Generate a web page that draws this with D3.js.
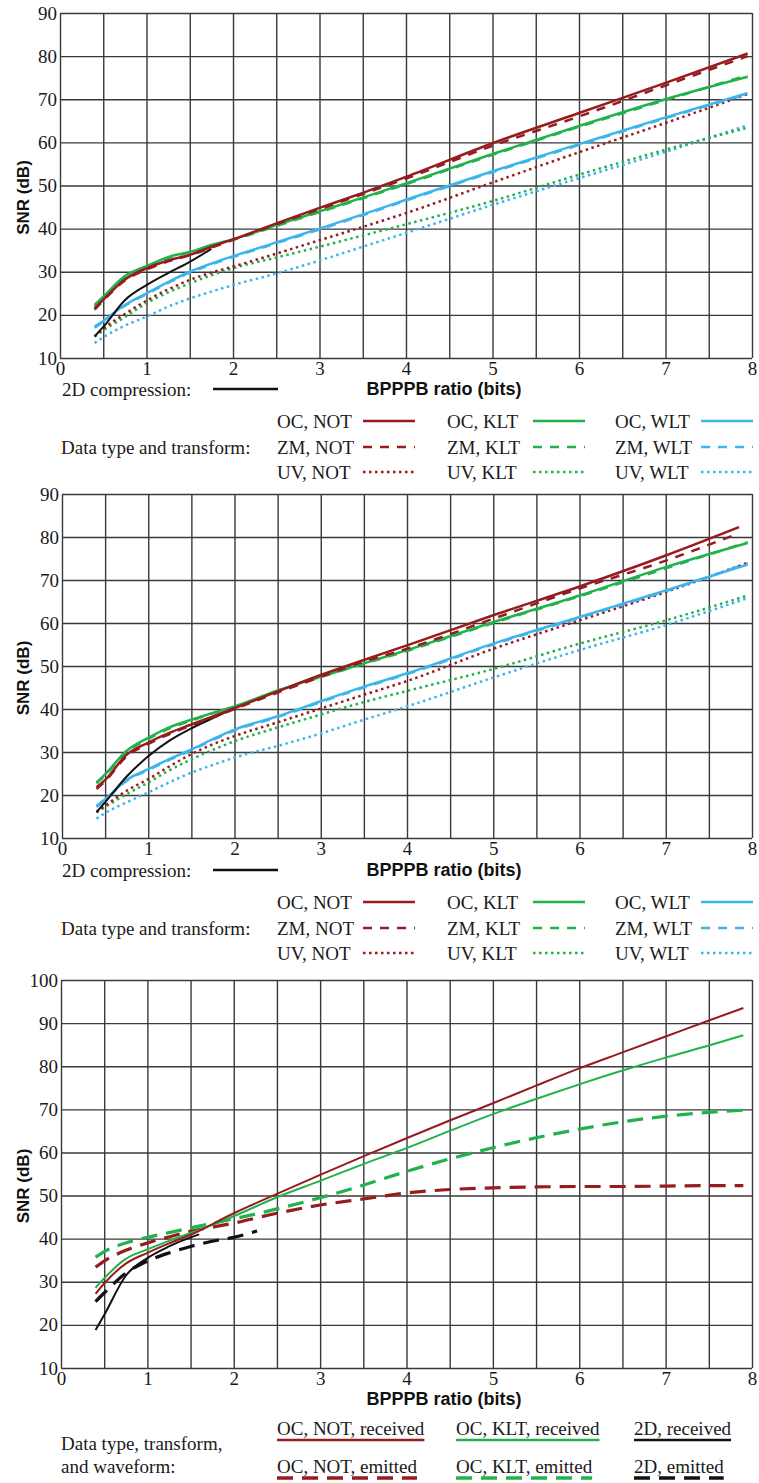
<!DOCTYPE html>
<html>
<head>
<meta charset="utf-8">
<script src="https://cdn.jsdelivr.net/npm/d3@7"></script>
<style>
  body { margin: 0; background: #fff; }
  .ttl { font-family: "Liberation Sans", Arial, sans-serif; font-weight: bold; fill: #111; }
  .lg { font-family: "Liberation Serif", "Times New Roman", serif; font-size: 19px; fill: #1a1a1a; }
</style>
</head>
<body>
<svg id="chart" width="759" height="1483"></svg>
<script>
// ---- data ----
// x positions (BPPPB ratio, bits) for panels 1 and 2
const xAB = [0.4, 0.5, 0.75, 1, 1.25, 1.5, 1.75, 2, 2.5, 3, 3.5, 4, 5, 6, 7, 7.95];
const xABred2 = [0.4, 0.5, 0.75, 1, 1.25, 1.5, 1.75, 2, 2.5, 3, 3.5, 4, 5, 6, 7, 7.85];
const x2D1 = [0.4, 0.5, 0.75, 1, 1.25, 1.5, 1.75];
const x2D2 = [0.4, 0.5, 0.75, 1, 1.25, 1.5, 1.75, 2];

// panel 1
const p1OcNot = [21.5, 23.5, 28.2, 30.8, 32.6, 33.9, 35.8, 37.5, 41.2, 44.8, 48.3, 52.0, 59.8, 66.8, 73.8, 80.6];
const p1ZmNot = [21.2, 23.3, 28.0, 30.5, 32.4, 33.8, 35.6, 37.4, 41.0, 44.5, 48.0, 51.6, 59.2, 66.0, 73.2, 80.0];
const p1UvNot = [15.0, 16.8, 20.2, 23.3, 25.9, 28.1, 29.8, 31.2, 34.2, 37.3, 40.4, 43.6, 50.7, 57.7, 64.5, 71.2];
const p1OcKlt = [22.3, 24.2, 29.0, 31.3, 33.4, 34.6, 36.2, 37.5, 40.8, 44.0, 47.2, 50.5, 57.3, 63.8, 70.0, 75.2];
const p1ZmKlt = [22.0, 24.0, 28.8, 31.0, 33.2, 34.5, 36.0, 37.4, 40.6, 43.8, 47.0, 50.3, 57.1, 63.6, 69.8, 75.6];
const p1UvKlt = [15.0, 16.4, 19.5, 22.7, 25.2, 27.3, 29.2, 30.8, 33.3, 35.8, 38.4, 41.0, 46.4, 52.5, 58.3, 63.4];
const p1OcWlt = [17.3, 18.6, 22.3, 25.0, 27.6, 30.0, 31.9, 33.6, 36.8, 40.0, 43.3, 46.7, 53.3, 59.6, 65.8, 71.4];
const p1ZmWlt = [17.0, 18.4, 22.1, 24.8, 27.4, 29.8, 31.7, 33.4, 36.6, 39.8, 43.1, 46.5, 53.1, 59.4, 65.6, 71.2];
const p1UvWlt = [13.5, 14.8, 17.5, 19.6, 21.9, 23.8, 25.4, 26.9, 29.6, 32.6, 35.8, 39.0, 45.5, 51.7, 57.8, 64.0];
const p1TwoD = [15.0, 17.2, 23.4, 26.9, 29.7, 32.3, 35.3];

// panel 2
const p2OcNot = [21.8, 23.5, 29.4, 32.2, 34.5, 36.4, 38.3, 40.2, 44.1, 47.9, 51.4, 54.8, 61.8, 68.5, 75.7, 82.3];
const p2ZmNot = [21.4, 23.2, 29.0, 31.9, 34.2, 36.2, 38.0, 40.0, 43.8, 47.5, 51.0, 54.0, 61.0, 68.0, 74.5, 80.9];
const p2UvNot = [16.0, 17.5, 21.0, 23.7, 26.7, 29.5, 31.8, 33.7, 36.9, 40.1, 43.3, 46.5, 54.0, 60.6, 67.2, 74.0];
const p2OcKlt = [22.9, 24.8, 30.3, 33.3, 35.8, 37.5, 39.1, 40.6, 44.3, 47.5, 50.6, 53.7, 60.2, 66.4, 73.0, 78.6];
const p2ZmKlt = [22.7, 24.6, 30.0, 33.0, 35.5, 37.3, 39.0, 40.5, 44.2, 47.4, 50.5, 53.5, 60.0, 66.2, 72.7, 78.8];
const p2UvKlt = [16.0, 17.2, 20.2, 22.9, 25.8, 28.3, 30.5, 32.5, 35.7, 38.7, 41.6, 44.2, 49.3, 55.2, 60.6, 66.4];
const p2OcWlt = [17.5, 19.0, 23.5, 26.0, 28.4, 30.6, 33.0, 35.2, 38.3, 41.8, 45.2, 48.3, 55.2, 61.4, 67.6, 73.6];
const p2ZmWlt = [17.2, 18.8, 23.3, 25.8, 28.2, 30.4, 32.8, 35.0, 38.1, 41.6, 45.0, 48.1, 55.0, 61.2, 67.4, 73.9];
const p2UvWlt = [14.5, 15.8, 18.3, 20.6, 23.0, 25.2, 27.0, 28.7, 31.4, 34.3, 37.5, 40.6, 47.3, 53.7, 59.5, 65.8];
const p2TwoD = [16.0, 18.3, 24.3, 29.0, 32.7, 35.5, 37.9, 40.2];

// panel 3
const xC = [0.4, 0.5, 0.75, 1, 1.25, 1.5, 2, 2.5, 3, 3.5, 4, 4.5, 5, 5.5, 6, 6.5, 7, 7.5, 7.9];
const x2DRec = [0.4, 0.5, 0.75, 1, 1.25, 1.5, 1.6];
const x2DEmi = [0.4, 0.5, 0.75, 1, 1.25, 1.5, 1.75, 2, 2.27];
const p3NotRec = [27.2, 29.6, 34.2, 36.7, 38.9, 40.9, 45.9, 50.4, 54.8, 59.1, 63.3, 67.4, 71.4, 75.5, 79.5, 83.2, 86.9, 90.6, 93.5];
const p3NotEmi = [33.4, 34.8, 37.3, 39.0, 40.4, 41.7, 43.6, 45.9, 47.8, 49.2, 50.6, 51.4, 51.8, 52.0, 52.1, 52.1, 52.2, 52.3, 52.3];
const p3KltRec = [28.6, 30.8, 35.3, 37.5, 39.5, 41.3, 45.2, 49.6, 53.4, 57.3, 61.0, 65.0, 68.9, 72.4, 75.8, 79.0, 82.0, 84.8, 87.2];
const p3KltEmi = [35.7, 37.0, 39.0, 40.3, 41.4, 42.5, 44.6, 46.9, 49.5, 52.4, 55.6, 58.5, 61.1, 63.4, 65.4, 67.1, 68.4, 69.3, 69.8];
const p32DRec = [18.8, 22.3, 31.4, 35.5, 38.2, 40.3, 41.0];
const p32DEmi = [25.4, 27.4, 32.0, 34.8, 36.7, 38.2, 39.4, 40.3, 41.8];

// legend labels
const typeNames = ['OC', 'ZM', 'UV'];
const transNames = ['NOT', 'KLT', 'WLT'];
const waveNames = ['received', 'emitted'];

// ---- styles ----
const RED = '#961c1f';
const GREEN = '#22b24c';
const BLUE = '#3cb5ec';
const BLACK = '#111';
const GRID = '#3a3a3a';
const SERIF = '"Liberation Serif", "Times New Roman", serif';
const transColor = { NOT: RED, KLT: GREEN, WLT: BLUE };
const typeDash = { OC: null, ZM: '9,8', UV: '2.5,3.5' };

const svg = d3.select('#chart');

function zip(xs, ys) { return xs.map((v, i) => [v, ys[i]]); }

function styleTicks(a) {
  a.select('.domain').remove();
  a.selectAll('text')
    .style('font-family', SERIF)
    .style('font-size', '19px')
    .attr('fill', '#1a1a1a');
}

function makePanel(cfg) {
  const g = svg.append('g');
  const x = d3.scaleLinear().domain([0, 8]).range([cfg.left, cfg.right]);
  const y = d3.scaleLinear().domain(cfg.yDom).range([cfg.bottom, cfg.top]);
  const h = cfg.bottom - cfg.top;
  const w = cfg.right - cfg.left;
  const yTicks = d3.range(cfg.yDom[0], cfg.yDom[1] + 1, 10);

  // grid
  g.append('g')
    .attr('transform', `translate(0,${cfg.bottom})`)
    .call(d3.axisBottom(x).tickValues(d3.range(0, 8.01, 0.5)).tickSize(-h).tickFormat(''))
    .call(a => a.select('.domain').remove())
    .selectAll('line').attr('stroke', GRID).attr('stroke-width', 1.4);
  g.append('g')
    .attr('transform', `translate(${cfg.left},0)`)
    .call(d3.axisLeft(y).tickValues(yTicks).tickSize(-w).tickFormat(''))
    .call(a => a.select('.domain').remove())
    .selectAll('line').attr('stroke', GRID).attr('stroke-width', 1.4);

  // tick labels
  g.append('g')
    .attr('transform', `translate(0,${cfg.bottom})`)
    .call(d3.axisBottom(x).ticks(8).tickSize(0).tickPadding(3))
    .call(styleTicks);
  g.append('g')
    .attr('transform', `translate(${cfg.left},0)`)
    .call(d3.axisLeft(y).tickValues(yTicks).tickSize(0).tickPadding(3))
    .call(styleTicks);

  // axis titles
  g.append('text').attr('class', 'ttl')
    .attr('transform', `translate(29,${(cfg.top + cfg.bottom) / 2 + 12}) rotate(-90)`)
    .attr('text-anchor', 'middle').attr('font-size', 17)
    .text('SNR (dB)');
  g.append('text').attr('class', 'ttl')
    .attr('x', 444).attr('y', cfg.xTitleY).attr('dy', '0.35em')
    .attr('text-anchor', 'middle').attr('font-size', 18)
    .text('BPPPB ratio (bits)');

  // curves
  const line = d3.line().x(d => x(d[0])).y(d => y(d[1])).curve(d3.curveMonotoneX);
  cfg.series.forEach(s => {
    g.append('path')
      .datum(zip(s.x, s.y))
      .attr('d', line)
      .attr('fill', 'none')
      .attr('stroke', s.color)
      .attr('stroke-width', s.width)
      .attr('stroke-dasharray', s.dash)
      .attr('stroke-linejoin', 'round');
  });
  return { x, y };
}

function topSeries(xs, xsRed, vals, twoDx, twoD) {
  const list = [];
  // draw order: dotted, then blue/green, then black, then red on top
  const order = [['UV', 'WLT'], ['UV', 'KLT'], ['UV', 'NOT'],
    ['ZM', 'WLT'], ['OC', 'WLT'], ['ZM', 'KLT'], ['OC', 'KLT']];
  order.forEach(([t, tr]) => {
    list.push({ x: xs, y: vals[t + tr], color: transColor[tr], dash: typeDash[t], width: 2.5 });
  });
  list.push({ x: twoDx, y: twoD, color: BLACK, dash: null, width: 2 });
  list.push({ x: xsRed, y: vals.OCNOT, color: RED, dash: null, width: 2.5 });
  list.push({ x: xsRed, y: vals.ZMNOT, color: RED, dash: typeDash.ZM, width: 2.5 });
  return list;
}

function topLegend(y0) {
  // 2D compression line
  svg.append('text').attr('class', 'lg').attr('x', 62).attr('y', y0).attr('dy', '0.35em').text('2D compression:');
  svg.append('line').attr('x1', 213).attr('x2', 278).attr('y1', y0).attr('y2', y0)
    .attr('stroke', BLACK).attr('stroke-width', 2.5);
  const rowY = [y0 + 32, y0 + 58, y0 + 83];
  const colX = [277, 447, 615];
  svg.append('text').attr('class', 'lg').attr('x', 61).attr('y', rowY[1]).attr('dy', '0.35em')
    .text('Data type and transform:');
  transNames.forEach((tr, ci) => {
    typeNames.forEach((t, ri) => {
      svg.append('text').attr('class', 'lg').attr('x', colX[ci]).attr('y', rowY[ri]).attr('dy', '0.35em')
        .text(`${t}, ${tr}`);
      svg.append('line')
        .attr('x1', colX[ci] + 86).attr('x2', colX[ci] + 138)
        .attr('y1', rowY[ri]).attr('y2', rowY[ri])
        .attr('stroke', transColor[tr]).attr('stroke-width', 2.5)
        .attr('stroke-dasharray', typeDash[t]);
    });
  });
}

// ---- panel 1 ----
makePanel({
  left: 60, right: 752, top: 13, bottom: 358, yDom: [10, 90], xTitleY: 389,
  series: topSeries(xAB, xAB, {
    OCNOT: p1OcNot, ZMNOT: p1ZmNot, UVNOT: p1UvNot,
    OCKLT: p1OcKlt, ZMKLT: p1ZmKlt, UVKLT: p1UvKlt,
    OCWLT: p1OcWlt, ZMWLT: p1ZmWlt, UVWLT: p1UvWlt
  }, x2D1, p1TwoD)
});
topLegend(389);

// ---- panel 2 ----
makePanel({
  left: 62, right: 752, top: 494, bottom: 838, yDom: [10, 90], xTitleY: 870,
  series: topSeries(xAB, xABred2, {
    OCNOT: p2OcNot, ZMNOT: p2ZmNot, UVNOT: p2UvNot,
    OCKLT: p2OcKlt, ZMKLT: p2ZmKlt, UVKLT: p2UvKlt,
    OCWLT: p2OcWlt, ZMWLT: p2ZmWlt, UVWLT: p2UvWlt
  }, x2D2, p2TwoD)
});
topLegend(870);

// ---- panel 3 ----
const bigDash = '16,9';
makePanel({
  left: 61, right: 752, top: 980, bottom: 1368, yDom: [10, 100], xTitleY: 1399,
  series: [
    { x: xC, y: p3NotEmi, color: RED, dash: bigDash, width: 3.2 },
    { x: xC, y: p3KltEmi, color: GREEN, dash: bigDash, width: 3.2 },
    { x: x2DEmi, y: p32DEmi, color: BLACK, dash: bigDash, width: 3.2 },
    { x: x2DRec, y: p32DRec, color: BLACK, dash: null, width: 2 },
    { x: xC, y: p3KltRec, color: GREEN, dash: null, width: 2 },
    { x: xC, y: p3NotRec, color: RED, dash: null, width: 2 }
  ]
});

// bottom legend
svg.append('text').attr('class', 'lg').attr('x', 61).attr('y', 1443).attr('dy', '0.35em').text('Data type, transform,');
svg.append('text').attr('class', 'lg').attr('x', 61).attr('y', 1466).attr('dy', '0.35em').text('and waveform:');
const botCols = [
  { x: 277, label: 'OC, NOT', color: RED },
  { x: 456, label: 'OC, KLT', color: GREEN },
  { x: 634, label: '2D', color: BLACK }
];
botCols.forEach(c => {
  waveNames.forEach((wv, ri) => {
    const ty = ri === 0 ? 1428 : 1466;
    const ly = ri === 0 ? 1440 : 1478;
    const t = svg.append('text').attr('class', 'lg').attr('x', c.x).attr('y', ty).attr('dy', '0.35em')
      .text(`${c.label}, ${wv}`);
    const tw = t.node().getComputedTextLength();
    svg.append('line').attr('x1', c.x).attr('x2', c.x + tw).attr('y1', ly).attr('y2', ly)
      .attr('stroke', c.color)
      .attr('stroke-width', ri === 0 ? 2.5 : 3.5)
      .attr('stroke-dasharray', ri === 0 ? null : bigDash);
  });
});
</script>
</body>
</html>
